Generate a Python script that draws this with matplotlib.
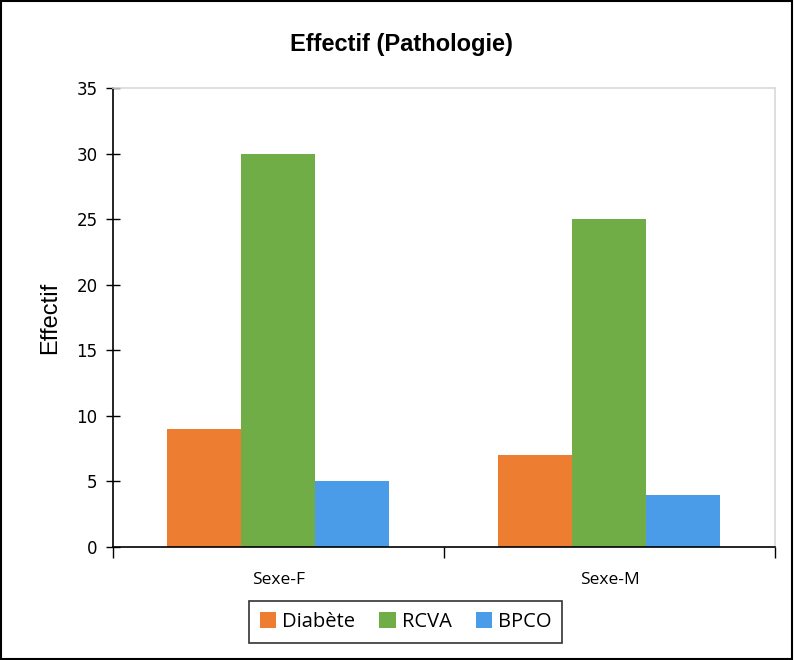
import numpy as np
import matplotlib.pyplot as plt
from matplotlib.patches import Rectangle

categories = ['Sexe-F', 'Sexe-M']
series = ['Diabète', 'RCVA', 'BPCO']
diabete = [9, 7]
rcva = [30, 25]
bpco = [5, 4]
colors = ['#ED7D31', '#70AD47', '#4A9BE8']

fig = plt.figure(figsize=(7.94, 6.6), dpi=100)
ax = fig.add_axes([0.1423, 0.1712, 0.8337, 0.6955])

x = np.arange(len(categories))
w = 0.2236
for i, (vals, name) in enumerate(zip([diabete, rcva, bpco], series)):
    ax.bar(x + (i - 1) * w, vals, w, color=colors[i], label=name)

ax.set_xlim(-0.5, 1.5)
ax.set_ylim(0, 35)
ax.set_yticks(range(0, 36, 5))
ax.tick_params(axis='y', direction='inout', length=10, width=1, labelsize=12, pad=6)
ax.set_xticks([-0.5, 0.5, 1.5])
ax.set_xticklabels([])
ax.set_xticks(x, minor=True)
ax.set_xticklabels(categories, minor=True, fontsize=12.5, family='Open Sans')
ax.tick_params(axis='x', which='major', direction='out', length=8, width=1)
ax.tick_params(axis='x', which='minor', length=0, pad=18)
for s in ['left', 'bottom']:
    ax.spines[s].set_color('black')
    ax.spines[s].set_linewidth(1.2)
for s in ['top', 'right']:
    ax.spines[s].set_color('#D9D9D9')
    ax.spines[s].set_linewidth(1.2)

ax.set_ylabel('Effectif', fontsize=17, family='Liberation Sans', labelpad=11)
fig.text(0.506, 0.932, 'Effectif (Pathologie)', ha='center', va='center',
         fontsize=17, fontweight='bold', family='Liberation Sans')

leg = ax.legend(loc='center', bbox_to_anchor=(0.511, 0.0576), bbox_transform=fig.transFigure,
                ncol=3, frameon=True, fancybox=False, handlelength=0.8, handleheight=0.8,
                handletextpad=0.3, columnspacing=1.2, borderpad=0.55,
                prop={'family': 'Open Sans', 'size': 14.5})
leg.get_frame().set_edgecolor('black')
leg.get_frame().set_linewidth(1.2)

fig.patches.append(Rectangle((0.001, 0.001), 0.997, 0.997, transform=fig.transFigure,
                             fill=False, edgecolor='black', linewidth=1.5))

fig.savefig('out.png', dpi=100)
